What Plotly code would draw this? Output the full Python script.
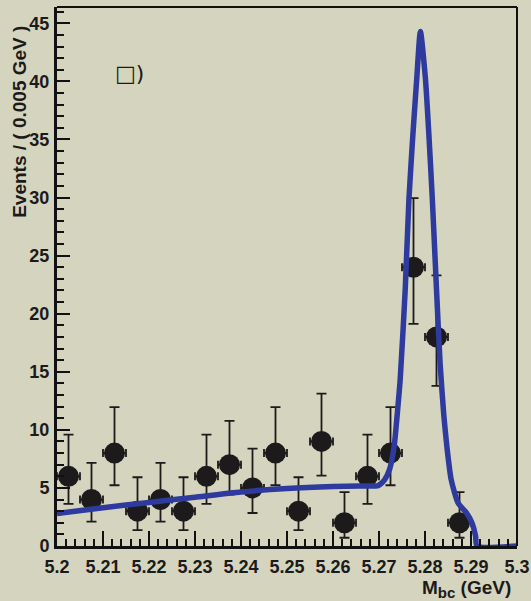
import plotly.graph_objects as go

# ---- data ----
bin_centers = [5.2025, 5.2075, 5.2125, 5.2175, 5.2225, 5.2275, 5.2325, 5.2375, 5.2425,
               5.2475, 5.2525, 5.2575, 5.2625, 5.2675, 5.2725, 5.2775, 5.2825, 5.2875]
events = [6, 4, 8, 3, 4, 3, 6, 7, 5, 8, 3, 9, 2, 6, 8, 24, 18, 2]
err_low = [2.38, 1.91, 2.77, 1.63, 1.91, 1.63, 2.38, 2.58, 2.16, 2.77, 1.63, 2.94, 1.29,
           2.38, 2.77, 4.88, 4.21, 1.29]
err_high = [3.58, 3.16, 3.96, 2.92, 3.16, 2.92, 3.58, 3.77, 3.38, 3.96, 2.92, 4.11, 2.64,
            3.58, 3.96, 5.95, 5.29, 2.64]
bin_half_width = [0.0025] * len(bin_centers)

fit_mass = [5.2000, 5.2100, 5.2200, 5.2300, 5.2400, 5.2500, 5.2600, 5.2658, 5.2698,
            5.2712, 5.2723, 5.2733, 5.2740, 5.2746, 5.2757, 5.2765, 5.2773, 5.2782,
            5.2790, 5.2801, 5.2809, 5.2816, 5.2825, 5.2833, 5.2841, 5.2848, 5.2857,
            5.2872, 5.2890, 5.2902, 5.2910, 5.2913, 5.3000]
fit_events = [2.8, 3.3, 3.75, 4.2, 4.65, 4.95, 5.12, 5.17, 5.2,
              5.7, 6.6, 8.6, 11.5, 14.3, 22.1, 29.8, 35.0, 40.2,
              44.3, 40.2, 35.0, 29.8, 22.1, 15.6, 11.2, 8.4, 5.7,
              3.7, 2.86, 2.0, 0.84, 0.0, 0.0]

x_tickvals = [5.2, 5.21, 5.22, 5.23, 5.24, 5.25, 5.26, 5.27, 5.28, 5.29, 5.3]
x_ticktext = ["5.2", "5.21", "5.22", "5.23", "5.24", "5.25", "5.26", "5.27", "5.28", "5.29", "5.3"]
y_tickvals = [0, 5, 10, 15, 20, 25, 30, 35, 40, 45]
y_ticktext = ["0", "5", "10", "15", "20", "25", "30", "35", "40", "45"]

BG = "#d5d5bf"
BLUE = "#2e3a9d"
FONT = "Liberation Sans, Arial, Helvetica, sans-serif"

fig = go.Figure()

fig.add_trace(go.Scatter(
    x=bin_centers, y=events, mode="markers",
    marker=dict(color="#1c1a1a", size=21, line=dict(width=0)),
    error_y=dict(type="data", symmetric=False, array=err_high, arrayminus=err_low,
                 color="#1c1a1a", thickness=1.8, width=5),
    error_x=dict(type="data", array=bin_half_width, color="#1c1a1a",
                 thickness=1.8, width=4),
    showlegend=False, hoverinfo="skip",
))

fig.add_trace(go.Scatter(
    x=fit_mass, y=fit_events, mode="lines",
    line=dict(color=BLUE, width=5.5, shape="spline", smoothing=0.6),
    showlegend=False, hoverinfo="skip",
))

axis_common = dict(
    showgrid=False, zeroline=False, showline=True, linecolor="#111111", linewidth=3,
    ticks="inside", tickcolor="#111111", tickwidth=2, automargin=False,
    tickfont=dict(family=FONT, size=18, color="#1c1a1a", weight="bold"),
)

fig.update_xaxes(
    range=[5.2, 5.3], tickvals=x_tickvals, ticktext=x_ticktext, ticklen=15,
    minor=dict(dtick=0.002, ticklen=7, tickwidth=2, ticks="inside", tickcolor="#111111"),
    ticklabelstandoff=2,
    **axis_common,
)
fig.update_yaxes(
    range=[0, 46.4], tickvals=y_tickvals, ticktext=y_ticktext, ticklen=13,
    minor=dict(dtick=1, ticklen=7, tickwidth=2, ticks="inside", tickcolor="#111111"),
    ticklabelstandoff=1,
    **axis_common,
)

fig.update_layout(
    width=531, height=601,
    margin=dict(l=57, r=14, t=7, b=55, autoexpand=False),
    paper_bgcolor=BG, plot_bgcolor=BG,
    shapes=[
        dict(type="line", xref="paper", yref="paper", x0=0, x1=1, y0=1, y1=1,
             line=dict(color="#111111", width=2)),
        dict(type="line", xref="paper", yref="paper", x0=1, x1=1, y0=0, y1=1,
             line=dict(color="#111111", width=2)),
    ],
    annotations=[
        dict(text="Events / ( 0.005 GeV )", textangle=-90, xref="paper", yref="paper",
             x=0, xshift=-37, y=0.787, xanchor="center", yanchor="middle", showarrow=False,
             font=dict(family=FONT, size=19, color="#1c1a1a", weight="bold")),
        dict(text="M<sub><span style='font-size:15px'>bc</span></sub> (GeV)",
             xref="paper", yref="paper",
             x=0.9913, y=-0.08, xanchor="right", yanchor="middle", showarrow=False,
             font=dict(family=FONT, size=19, color="#1c1a1a", weight="bold")),
        dict(text="□)", xref="paper", yref="paper",
             x=(113 - 57) / 460, y=(546 - 73) / 539, xanchor="left", yanchor="middle",
             showarrow=False,
             font=dict(family="DejaVu Sans, Liberation Sans", size=22, color="#1c1a1a")),
    ],
)

fig.write_html(
    "out.html",
    config={"displayModeBar": False},
    post_script="document.body.style.margin='0';document.body.style.overflow='hidden';"
                "document.body.style.background='" + BG + "';",
)
